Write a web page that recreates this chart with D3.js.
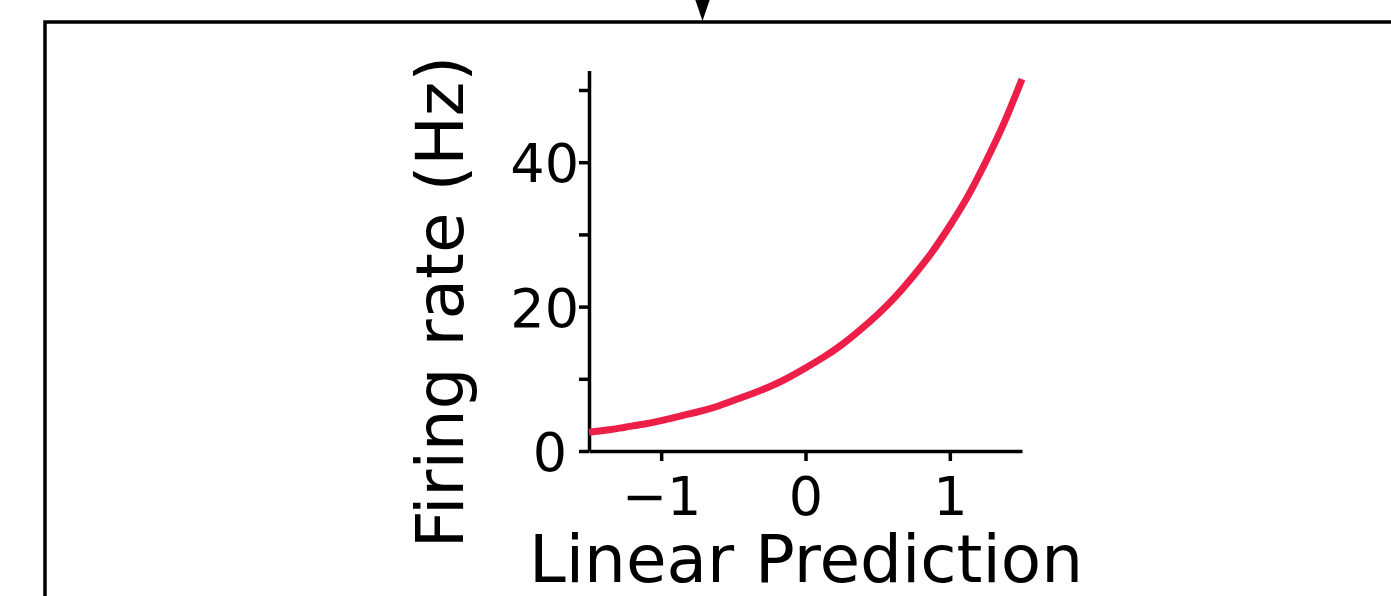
<!DOCTYPE html>
<html>
<head>
<meta charset="utf-8">
<script src="https://cdn.jsdelivr.net/npm/d3@7"></script>
<style>
  html, body { margin: 0; padding: 0; background: #ffffff; }
  svg { display: block; }
  text { font-family: "DejaVu Sans", sans-serif; fill: #000; }
</style>
</head>
<body>
<script>
// Linear prediction (input to the nonlinearity) and resulting firing rate
const linearPrediction = [-1.5, -1.375, -1.25, -1.125, -1.0, -0.875, -0.75, -0.625, -0.5,
                          -0.375, -0.25, -0.125, 0, 0.125, 0.25, 0.375, 0.5, 0.625, 0.75,
                          0.875, 1.0, 1.125, 1.25, 1.375, 1.5];
const firingRate       = [2.6, 2.9, 3.3, 3.7, 4.2, 4.8, 5.4, 6.1, 7.0,
                          7.9, 8.9, 10.1, 11.5, 13.0, 14.7, 16.7, 18.9, 21.4, 24.3,
                          27.5, 31.2, 35.3, 40.1, 45.4, 51.5];

const xTicks = [-1, 0, 1];
const xTickLabels = ["\u22121", "0", "1"];
const yTicks = [0, 10, 20, 30, 40, 50];
const yTickLabels = ["0", "", "20", "", "40", ""];

const W = 1391, H = 596;
const svg = d3.select("body").append("svg")
  .attr("width", W).attr("height", H);

// Enclosing panel frame with the incoming arrow at its top edge
svg.append("path")
  .attr("d", "M45,600 L45,22 L1400,22")
  .attr("fill", "none").attr("stroke", "#000").attr("stroke-width", 3.5);
svg.append("path")
  .attr("d", "M694,-4 L711,-4 L702.5,21 Z")
  .attr("fill", "#000");

// Scales
const x = d3.scaleLinear().domain([-1.5, 1.5]).range([589, 1022]);
const y = d3.scaleLinear().domain([0, 52.7]).range([451, 70.5]);

// Y axis
const yAxis = svg.append("g")
  .attr("transform", `translate(${x.range()[0]},0)`)
  .call(d3.axisLeft(y).tickValues(yTicks)
    .tickFormat((d, i) => yTickLabels[i])
    .tickSize(10).tickSizeOuter(0).tickPadding(0));
yAxis.select(".domain").attr("stroke-width", 3.5);
yAxis.selectAll(".tick line").attr("stroke-width", 3.5);
yAxis.selectAll(".tick text")
  .attr("font-size", 54)
  .attr("font-family", "DejaVu Sans")
  .attr("dy", "0.36em")
  .attr("dx", d => d === 0 ? -12 : 0);

// X axis
const xAxis = svg.append("g")
  .attr("transform", `translate(0,${y(0)})`)
  .call(d3.axisBottom(x).tickValues(xTicks)
    .tickFormat((d, i) => xTickLabels[i])
    .tickSize(10).tickSizeOuter(0).tickPadding(16));
xAxis.select(".domain").attr("stroke-width", 3.5);
xAxis.selectAll(".tick line").attr("stroke-width", 3.5);
xAxis.selectAll(".tick text")
  .attr("font-size", 54)
  .attr("font-family", "DejaVu Sans");

// Exponential nonlinearity curve
const line = d3.line()
  .x((d, i) => x(linearPrediction[i]))
  .y(d => y(d))
  .curve(d3.curveNatural);
svg.append("path")
  .datum(firingRate)
  .attr("d", line)
  .attr("fill", "none")
  .attr("stroke", "#ED1E48")
  .attr("stroke-width", 7);

// Axis titles
svg.append("text")
  .attr("x", 806).attr("y", 582)
  .attr("text-anchor", "middle")
  .attr("font-size", 66)
  .text("Linear Prediction");
svg.append("text")
  .attr("transform", "translate(463,302) rotate(-90)")
  .attr("text-anchor", "middle")
  .attr("font-size", 66)
  .text("Firing rate (Hz)");
</script>
</body>
</html>
